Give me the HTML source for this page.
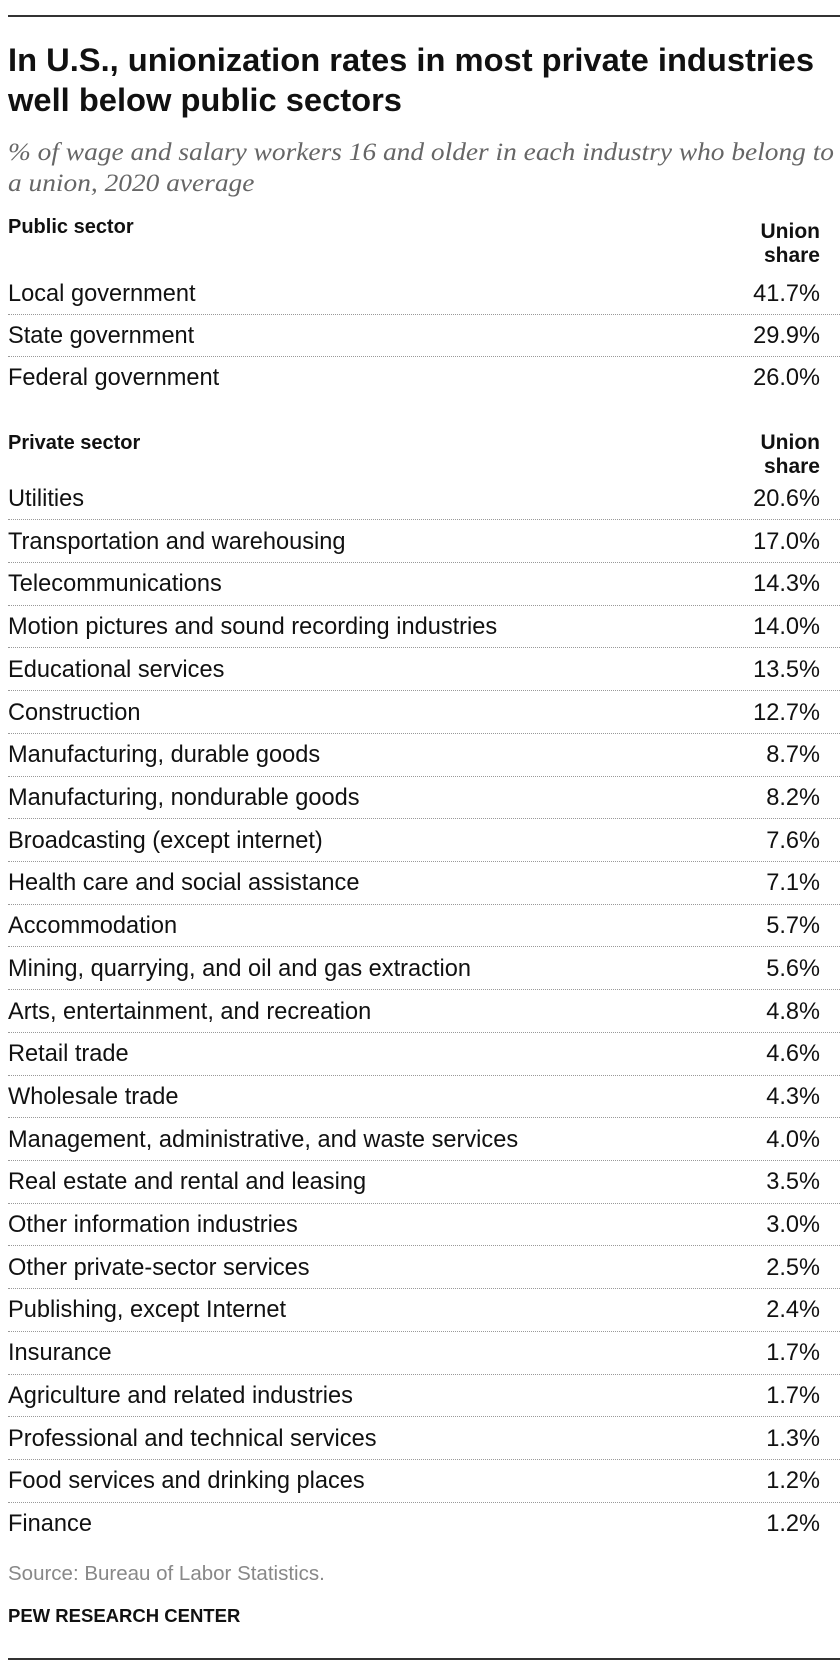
<!DOCTYPE html>
<html><head><meta charset="utf-8">
<style>
html,body{margin:0;padding:0;background:#fff;}
body{width:840px;height:1680px;position:relative;overflow:hidden;font-family:"Liberation Sans",Arial,sans-serif;color:#111;}
.abs{position:absolute;white-space:nowrap;}
.rule{position:absolute;left:8px;right:0;height:2px;background:#333;}
.title{left:8px;font-weight:bold;font-size:32px;line-height:40px;transform-origin:left center;}
.sub{left:8px;font-family:"Liberation Serif",serif;font-style:italic;font-size:25px;color:#666;line-height:31px;transform-origin:left center;}
.hdr{left:8px;font-weight:bold;font-size:20px;line-height:26px;}
.uh{right:20px;font-weight:bold;font-size:21px;line-height:24px;text-align:right;}
.lab{left:8px;font-size:23.6px;line-height:28px;}
.val{right:20px;font-size:23.6px;line-height:28px;}
.dot{position:absolute;left:8px;right:0;border-top:1.5px dotted #999;height:0;}
.src{left:8px;font-size:20.5px;color:#888;line-height:24px;}
.pew{left:8px;font-size:18.5px;font-weight:bold;line-height:24px;}
</style></head>
<body>
<div class="rule" style="top:15px"></div>
<div class="abs title" id="t1" style="top:40px">In U.S., unionization rates in most private industries</div>
<div class="abs title" id="t2" style="top:80px">well below public sectors</div>
<div class="abs sub" id="s1" style="top:137px">% of wage and salary workers 16 and older in each industry who belong to</div>
<div class="abs sub" id="s2" style="top:168px">a union, 2020 average</div>

<div class="abs hdr" style="top:214px">Public sector</div>
<div class="abs uh" style="top:220px">Union<br>share</div>
<div class="abs hdr" style="top:430px">Private sector</div>
<div class="abs uh" style="top:431px">Union<br>share</div>

<div id="rows"></div>

<div class="abs src" style="top:1562px">Source: Bureau of Labor Statistics.</div>
<div class="abs pew" style="top:1604px">PEW RESEARCH CENTER</div>
<div class="rule" style="top:1658px"></div>

<script>
const publicCategories = ["Local government","State government","Federal government"];
const publicValues = [41.7,29.9,26.0];
const privateCategories = ["Utilities","Transportation and warehousing","Telecommunications","Motion pictures and sound recording industries","Educational services","Construction","Manufacturing, durable goods","Manufacturing, nondurable goods","Broadcasting (except internet)","Health care and social assistance","Accommodation","Mining, quarrying, and oil and gas extraction","Arts, entertainment, and recreation","Retail trade","Wholesale trade","Management, administrative, and waste services","Real estate and rental and leasing","Other information industries","Other private-sector services","Publishing, except Internet","Insurance","Agriculture and related industries","Professional and technical services","Food services and drinking places","Finance"];
const privateValues = [20.6,17.0,14.3,14.0,13.5,12.7,8.7,8.2,7.6,7.1,5.7,5.6,4.8,4.6,4.3,4.0,3.5,3.0,2.5,2.4,1.7,1.7,1.3,1.2,1.2];

const rows = document.getElementById('rows');
function block(cats, vals, startY, step, prefix){
  cats.forEach((c,i)=>{
    const cy = startY + i*step;
    const l = document.createElement('div');
    l.className='abs lab'; l.style.top=(cy-13)+'px'; l.textContent=c;
    
    
    rows.appendChild(l);
    const v = document.createElement('div');
    v.className='abs val'; v.style.top=(cy-13)+'px'; v.textContent=vals[i].toFixed(1)+'%';
    
    
    rows.appendChild(v);
    if(i<cats.length-1){
      const d = document.createElement('div');
      d.className='dot'; d.style.top=(cy+step/2)+'px';
      
      
      rows.appendChild(d);
    }
  });
}
block(publicCategories, publicValues, 293, 41.8, 'public-row');
block(privateCategories, privateValues, 498, (1523-498)/24, 'private-row');

function fit(id, w){
  const el=document.getElementById(id);
  const cw=el.getBoundingClientRect().width;
  if(cw>0) el.style.transform='scaleX('+(w/cw)+')';
}
fit('t1',806);
fit('s1',826);
document.getElementById('t2').style.transform=document.getElementById('t1').style.transform;
document.getElementById('s2').style.transform=document.getElementById('s1').style.transform;
</script>
</body></html>
